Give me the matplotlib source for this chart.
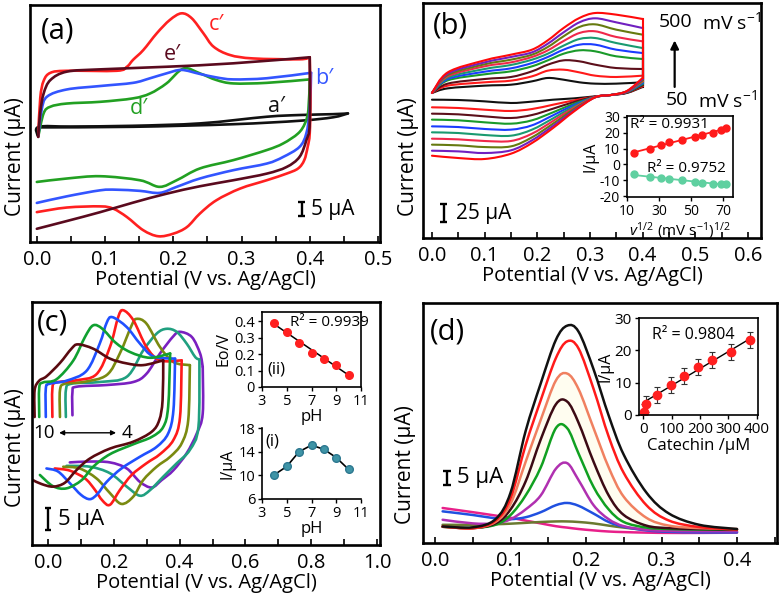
import numpy as np
import matplotlib
matplotlib.use("Agg")
import matplotlib.pyplot as plt
from matplotlib.path import Path
from matplotlib.patches import PathPatch
from matplotlib.ticker import MultipleLocator, NullLocator, FormatStrFormatter, FixedLocator, FuncFormatter

plt.rcParams['font.family'] = ['Open Sans', 'DejaVu Sans']
plt.rcParams['mathtext.fontset'] = 'custom'
plt.rcParams['mathtext.rm'] = 'Open Sans'
plt.rcParams['mathtext.it'] = 'Open Sans:italic'
plt.rcParams['axes.unicode_minus'] = False

# ---------------- Panel (a): CVs (V, uA) ----------------
a_black_up_x = [0.001, 0.003, 0.05, 0.14, 0.24, 0.337, 0.385, 0.434, 0.456]
a_black_up_y = [-3.0, 0.0, 0.1, 0.35, 1.2, 3.5, 4.1, 4.4, 4.65]
a_black_lo_x = [0.456, 0.434, 0.385, 0.288, 0.141, 0.003]
a_black_lo_y = [4.65, 3.3, 2.1, 0.9, 0.0, -0.2]

a_green_up_x = [0.002, 0.010, 0.020, 0.044, 0.093, 0.141, 0.166, 0.190, 0.215, 0.239, 0.263, 0.288, 0.337, 0.400]
a_green_up_y = [-3.5, 4.7, 7.0, 8.1, 8.7, 9.9, 11.6, 15.1, 20.3, 18.6, 16.3, 15.1, 15.3, 16.5]
a_green_lo_x = [0.400, 0.398, 0.393, 0.383, 0.361, 0.337, 0.288, 0.239, 0.205, 0.180, 0.151, 0.093, 0.044, 0.0]
a_green_lo_y = [16.5, 5.8, 1.2, -2.3, -5.8, -8.1, -11.6, -14.5, -18.6, -20.9, -18.6, -17.2, -18.0, -19.2]

a_blue_up_x = [0.002, 0.007, 0.015, 0.044, 0.093, 0.141, 0.166, 0.190, 0.212, 0.239, 0.263, 0.288, 0.337, 0.402]
a_blue_up_y = [-3.5, 5.8, 10.5, 13.0, 14.2, 15.3, 16.9, 18.6, 19.8, 18.4, 17.2, 16.5, 16.9, 18.8]
a_blue_lo_x = [0.402, 0.400, 0.395, 0.385, 0.361, 0.337, 0.288, 0.239, 0.205, 0.180, 0.151, 0.117, 0.093, 0.044, 0.0]
a_blue_lo_y = [18.8, 5.8, -2.3, -7.0, -10.5, -12.8, -15.1, -18.0, -20.9, -23.0, -22.3, -21.9, -22.1, -24.2, -26.5]

a_red_up_x = [0.002, 0.005, 0.010, 0.020, 0.044, 0.117, 0.132, 0.141, 0.156, 0.176, 0.195, 0.212, 0.227, 0.244, 0.259, 0.283, 0.317, 0.385, 0.400]
a_red_up_y = [-3.5, 10.0, 16.0, 18.8, 19.5, 19.5, 20.9, 23.3, 26.7, 32.6, 37.2, 39.5, 37.8, 32.6, 27.9, 25.0, 23.8, 23.5, 24.2]
a_red_lo_x = [0.400, 0.401, 0.400, 0.397, 0.392, 0.383, 0.366, 0.337, 0.298, 0.263, 0.239, 0.220, 0.200, 0.178, 0.156, 0.132, 0.112, 0.093, 0.044, 0.0]
a_red_lo_y = [24.2, 10.0, -2.3, -7.0, -11.6, -14.5, -16.3, -18.6, -21.5, -25.6, -30.2, -34.9, -37.2, -38.1, -36.0, -31.4, -28.5, -27.7, -28.1, -29.7]

a_brown_up_x = [0.002, 0.005, 0.010, 0.020, 0.044, 0.093, 0.190, 0.288, 0.400]
a_brown_up_y = [-3.5, 5.0, 11.6, 16.3, 19.2, 20.0, 20.9, 22.1, 24.2]
a_brown_lo_x = [0.400, 0.400, 0.395, 0.385, 0.366, 0.337, 0.288, 0.239, 0.190, 0.141, 0.093, 0.044, 0.0]
a_brown_lo_y = [24.2, 1.2, -4.7, -10.5, -14.0, -16.3, -18.6, -20.7, -23.3, -26.4, -29.7, -32.8, -35.5]

# ---------------- Panel (b): scan-rate CVs ----------------
b_up_x = [0.0, 0.03, 0.10, 0.15, 0.19, 0.22, 0.25, 0.28, 0.31, 0.35, 0.40]
b_up_y = [
    [4.5, 10.7, 14.3, 15.6, 20.1, 24.6, 22.3, 18.8, 17.0, 17.0, 18.8],
    [4.5, 14.3, 18.8, 21.0, 26.8, 34.4, 35.7, 32.1, 27.7, 25.9, 27.7],
    [4.5, 17.0, 23.2, 25.9, 33.5, 42.4, 48.2, 46.9, 42.4, 37.9, 36.6],
    [4.5, 21.4, 29.5, 33.5, 40.2, 48.2, 57.1, 61.6, 60.3, 53.6, 50.0],
    [4.5, 23.2, 33.0, 37.5, 44.6, 52.7, 62.5, 69.2, 69.2, 62.5, 58.0],
    [4.5, 25.0, 36.6, 42.0, 49.1, 57.1, 67.9, 76.8, 78.1, 71.4, 64.7],
    [4.5, 26.8, 40.2, 45.5, 52.7, 61.6, 74.1, 84.8, 87.1, 79.5, 73.7],
    [4.5, 28.6, 42.9, 49.1, 55.8, 66.1, 80.4, 92.9, 96.4, 89.3, 82.6],
    [4.5, 30.4, 45.5, 52.7, 58.9, 70.5, 85.7, 99.1, 104.5, 99.1, 91.5],
    [4.5, 32.1, 48.2, 55.8, 62.5, 75.0, 91.5, 104.9, 111.6, 109.4, 103.6],
]
b_lo_x = [0.40, 0.37, 0.34, 0.31, 0.27, 0.23, 0.19, 0.15, 0.10, 0.05, 0.0]
b_lo_y = [
    [12.5, 4.5, 1.8, 0.0, -2.7, -4.5, -7.1, -8.9, -6.7, -4.9, -4.5],
    [13.4, 4.9, 1.8, -0.4, -5.4, -11.2, -17.0, -19.6, -17.9, -15.6, -14.7],
    [14.7, 4.9, 1.8, -0.4, -7.6, -16.5, -25.0, -29.0, -26.8, -24.1, -23.2],
    [16.1, 5.4, 1.8, -0.9, -9.8, -21.4, -32.1, -36.6, -34.8, -32.1, -31.2],
    [17.4, 5.8, 1.8, -0.9, -11.6, -25.4, -38.8, -44.6, -43.7, -41.1, -40.2],
    [18.8, 6.2, 1.8, -0.9, -13.4, -29.5, -44.6, -52.7, -51.8, -49.1, -48.2],
    [20.1, 6.2, 1.8, -0.9, -15.2, -33.0, -50.0, -59.8, -59.8, -57.6, -56.7],
    [21.4, 6.7, 1.8, -1.3, -17.0, -36.6, -54.9, -67.0, -67.9, -65.6, -64.7],
    [23.2, 6.7, 1.8, -1.3, -18.8, -39.7, -58.9, -72.3, -75.9, -73.7, -72.8],
    [24.6, 7.1, 1.8, -1.3, -20.1, -42.4, -62.5, -76.8, -83.9, -82.6, -79.5],
]
b_colors = ['#111111', '#ff1a1a', '#5c0f1a', '#1a9a2a', '#1a3cff',
            '#1a9a70', '#f0284a', '#667a10', '#7020c0', '#ff0a0a']

# inset (b)
bi_x = [14.4, 24.2, 30.9, 36.3, 44.0, 52.3, 56.5, 63.4, 68.4, 71.5]
bi_anodic = [7.1, 10.0, 12.3, 14.0, 15.6, 17.5, 18.8, 20.0, 21.5, 22.7]
bi_cathodic = [-6.3, -7.6, -8.6, -9.3, -10.1, -11.0, -11.4, -12.0, -12.3, -12.6]

# ---------------- Panel (c): pH CVs ----------------
c10_up_x = [-0.041, -0.041, -0.027, -0.005, 0.036, 0.071, 0.091, 0.137, 0.188, 0.239, 0.289, 0.350]
c10_up_y = [3.8, 10.0, 12.2, 13.2, 16.3, 19.6, 20.6, 19.6, 17.3, 16.2, 15.8, 16.9]
c10_lo_x = [0.350, 0.348, 0.338, 0.315, 0.259, 0.188, 0.127, 0.086, 0.051, 0.015, -0.020, -0.046]
c10_lo_y = [16.9, 7.7, 3.1, 0.4, -1.9, -3.5, -5.8, -8.5, -11.4, -12.3, -11.7, -10.8]

c9_up_x = [-0.027, -0.027, -0.015, 0.025, 0.076, 0.112, 0.137, 0.165, 0.205, 0.250, 0.310, 0.371]
c9_up_y = [3.8, 10.6, 11.8, 12.5, 16.8, 22.3, 25.0, 24.2, 21.0, 18.8, 17.5, 18.5]
c9_lo_x = [0.371, 0.365, 0.350, 0.315, 0.259, 0.188, 0.137, 0.102, 0.056, 0.015, -0.025]
c9_lo_y = [18.5, 6.2, 1.5, -0.8, -2.5, -4.8, -7.7, -10.8, -12.7, -12.2, -9.6]

c8_up_x = [-0.007, -0.007, 0.005, 0.056, 0.117, 0.157, 0.178, 0.195, 0.239, 0.279, 0.320, 0.386]
c8_up_y = [3.8, 10.4, 11.5, 12.2, 14.5, 20.8, 25.6, 26.9, 24.6, 20.8, 17.8, 17.3]
c8_lo_x = [0.386, 0.381, 0.365, 0.330, 0.279, 0.223, 0.178, 0.150, 0.127, 0.100, 0.066, 0.030, -0.005]
c8_lo_y = [17.3, 5.4, 0.0, -3.1, -5.4, -8.1, -11.2, -14.0, -15.2, -14.2, -11.5, -8.8, -8.1]

c7_up_x = [0.013, 0.013, 0.025, 0.086, 0.147, 0.188, 0.213, 0.228, 0.259, 0.299, 0.340, 0.406]
c7_up_y = [3.8, 10.4, 11.8, 12.3, 13.7, 20.0, 26.9, 28.5, 26.2, 20.0, 16.9, 16.9]
c7_lo_x = [0.406, 0.401, 0.381, 0.340, 0.299, 0.254, 0.218, 0.188, 0.165, 0.140, 0.112, 0.066, 0.020]
c7_lo_y = [16.9, 3.8, -1.5, -4.8, -6.9, -9.6, -13.1, -16.5, -15.5, -12.8, -10.4, -8.6, -8.1]

c6_up_x = [0.036, 0.036, 0.051, 0.107, 0.178, 0.218, 0.254, 0.269, 0.299, 0.340, 0.381, 0.431]
c6_up_y = [3.8, 10.0, 11.5, 11.9, 13.5, 18.5, 25.0, 26.5, 25.4, 20.0, 16.5, 15.8]
c6_lo_x = [0.431, 0.426, 0.406, 0.371, 0.330, 0.289, 0.259, 0.223, 0.188, 0.147, 0.096, 0.046]
c6_lo_y = [15.8, 3.1, -2.3, -5.4, -7.7, -10.8, -14.6, -16.3, -13.8, -10.4, -8.1, -7.7]

c5_up_x = [0.054, 0.054, 0.071, 0.157, 0.239, 0.289, 0.330, 0.360, 0.391, 0.421, 0.447, 0.460]
c5_up_y = [3.8, 10.0, 11.5, 11.9, 13.1, 19.2, 23.1, 24.2, 23.5, 20.8, 17.7, 17.1]
c5_lo_x = [0.460, 0.457, 0.431, 0.391, 0.350, 0.310, 0.279, 0.239, 0.188, 0.127, 0.056]
c5_lo_y = [17.1, 1.5, -3.8, -6.9, -10.0, -13.1, -14.4, -12.3, -9.2, -7.7, -7.5]

c4_up_x = [0.074, 0.074, 0.086, 0.178, 0.259, 0.299, 0.340, 0.381, 0.401, 0.437, 0.462, 0.470]
c4_up_y = [4.2, 9.6, 10.8, 11.2, 11.9, 13.8, 18.5, 22.5, 23.5, 22.3, 18.5, 15.4]
c4_lo_x = [0.470, 0.470, 0.452, 0.421, 0.381, 0.345, 0.315, 0.279, 0.239, 0.188, 0.127, 0.066]
c4_lo_y = [15.4, 4.6, 0.0, -4.6, -8.5, -10.8, -12.5, -11.2, -8.1, -6.7, -6.5, -6.7]

# inset (c) (ii) and (i)
c_ph = [4, 5, 6, 7, 8, 9, 10]
c_e0 = [0.389, 0.335, 0.269, 0.209, 0.171, 0.135, 0.075]
c_ipeak = [10.1, 11.5, 14.0, 15.1, 14.4, 13.0, 11.0]

# ---------------- Panel (d): DPVs ----------------
d_x = [0.01, 0.05, 0.08, 0.10, 0.12, 0.14, 0.16, 0.175, 0.19, 0.21, 0.23, 0.25, 0.28, 0.31, 0.35, 0.40]
d_pink = [7.5, 6.0, 4.8, 4.0, 3.0, 2.0, 1.0, 0.5, 0.0, -0.5, -0.9, -1.1, -1.3, -1.4, -1.4, -1.3]
d_olive = [1.5, 1.5, 1.7, 1.9, 2.2, 2.5, 2.7, 2.7, 2.5, 2.0, 1.2, 0.5, -0.3, -0.8, -1.0, -1.0]
d_blue = [6.3, 5.0, 3.8, 3.5, 4.2, 6.0, 8.5, 9.3, 8.3, 5.5, 2.5, 0.8, -0.5, -1.0, -1.2, -1.2]
d_magenta = [3.3, 2.0, 2.0, 3.5, 7.0, 12.0, 21.5, 23.5, 17.5, 8.5, 3.5, 1.0, -0.3, -0.7, -0.8, -0.8]
d_green = [0.8, 0.4, 1.5, 5.0, 12.0, 22.0, 36.0, 36.0, 27.0, 15.0, 7.0, 2.5, 0.5, 0.0, -0.2, -0.3]
d_brown = [0.8, 0.3, 2.0, 7.0, 17.0, 32.0, 44.5, 45.5, 38.0, 24.0, 12.0, 5.0, 1.2, 0.3, 0.0, -0.2]
d_orange = [0.8, 0.3, 2.5, 9.0, 24.0, 39.0, 53.0, 55.5, 50.0, 36.0, 22.0, 11.5, 4.0, 1.2, 0.3, 0.0]
d_red = [0.9, 0.3, 3.0, 11.0, 30.0, 46.0, 61.0, 67.0, 64.5, 50.0, 33.0, 20.0, 8.5, 3.0, 0.7, -0.2]
d_black = [0.9, 0.6, 3.5, 13.0, 35.0, 52.0, 67.5, 72.6, 70.5, 57.0, 40.5, 26.5, 13.0, 5.5, 1.5, 0.0]

# inset (d)
di_conc = [3.5, 9.5, 47, 96, 144, 194, 241, 309, 376]
di_current = [1.0, 3.3, 6.3, 9.2, 12.1, 14.8, 17.0, 19.5, 23.1]
di_err = [2.5, 2.5, 2.5, 2.5, 2.5, 2.5, 2.5, 2.5, 2.5]

# ======================================================
W, H = 779, 597
fig = plt.figure(figsize=(W / 100, H / 100), dpi=100)


def rect(l, t, r, b):
    return [l / W, 1 - b / H, (r - l) / W, (b - t) / H]


def smooth(ax, x, y, color, lw=1.8, z=2):
    x = np.asarray(x, float)
    y = np.asarray(y, float)
    n = len(x)
    verts = [(x[0], y[0])]
    codes = [Path.MOVETO]
    for i in range(n - 1):
        i0 = max(i - 1, 0)
        i3 = min(i + 2, n - 1)
        c1 = (x[i] + (x[i + 1] - x[i0]) / 6, y[i] + (y[i + 1] - y[i0]) / 6)
        c2 = (x[i + 1] - (x[i3] - x[i]) / 6, y[i + 1] - (y[i3] - y[i]) / 6)
        verts += [c1, c2, (x[i + 1], y[i + 1])]
        codes += [Path.CURVE4] * 3
    ax.add_patch(PathPatch(Path(verts, codes), fill=False, edgecolor=color,
                           lw=lw, capstyle='round', joinstyle='round', zorder=z))


def style_main(ax, xlim, ylim, major, minor, ylab_xy):
    ax.set_xlim(*xlim)
    ax.set_ylim(*ylim)
    for s in ax.spines.values():
        s.set_linewidth(1.9)
    ax.yaxis.set_major_locator(NullLocator())
    ax.xaxis.set_major_locator(MultipleLocator(major))
    ax.xaxis.set_minor_locator(MultipleLocator(minor))
    ax.xaxis.set_major_formatter(FormatStrFormatter('%.1f'))
    ax.tick_params(axis='x', which='both', direction='in', length=4, width=1.2,
                   labelsize=14.5, pad=6)
    ax.set_xlabel('Potential (V vs. Ag/AgCl)', fontsize=14.5, labelpad=0)
    ax.set_ylabel('Current (μA)', fontsize=15)
    ax.yaxis.set_label_coords(*ylab_xy)


def scalebar(ax, x, y0, y1, cap, label, tx, fs=15):
    ax.plot([x, x], [y0, y1], color='black', lw=1.7, solid_capstyle='butt')
    ax.plot([x - cap, x + cap], [y0, y0], color='black', lw=1.7, solid_capstyle='butt')
    ax.plot([x - cap, x + cap], [y1, y1], color='black', lw=1.7, solid_capstyle='butt')
    ax.text(tx, (y0 + y1) / 2, label, fontsize=fs, va='center', ha='left')


def style_inset(ax, fs):
    for s in ax.spines.values():
        s.set_linewidth(1.2)
    ax.tick_params(axis='both', which='both', direction='out', length=3, width=1,
                   labelsize=fs, pad=2)


# ---------------- (a) ----------------
ax = fig.add_axes(rect(30, 5, 380, 242))
style_main(ax, (-0.01, 0.503), (-40.1, 42.4), 0.1, 0.05, (-0.012, 0.36))
for ux, uy, lx, ly, c in [
    (a_black_up_x, a_black_up_y, a_black_lo_x, a_black_lo_y, '#111111'),
    (a_green_up_x, a_green_up_y, a_green_lo_x, a_green_lo_y, '#22a022'),
    (a_blue_up_x, a_blue_up_y, a_blue_lo_x, a_blue_lo_y, '#3355ff'),
    (a_red_up_x, a_red_up_y, a_red_lo_x, a_red_lo_y, '#ff2020'),
    (a_brown_up_x, a_brown_up_y, a_brown_lo_x, a_brown_lo_y, '#5a0a1e'),
]:
    smooth(ax, ux, uy, c, lw=1.9)
    smooth(ax, lx, ly, c, lw=1.9)
ax.text(0.03, 0.89, '(a)', transform=ax.transAxes, fontsize=21, va='center', ha='left')
for t, x, y, c in [('c′', 0.263, 35.5, '#ff2020'), ('e′', 0.198, 25.0, '#5a0a1e'),
                   ('b′', 0.422, 16.9, '#3355ff'), ('d′', 0.149, 6.4, '#22a022'),
                   ('a′', 0.351, 7.0, '#111111')]:
    ax.text(x, y, t, color=c, fontsize=15.5, ha='center', va='center',
            family=['Open Sans', 'DejaVu Sans'])
scalebar(ax, 0.388, -26.2, -31.2, 0.005, '5 μA', 0.402)

# ---------------- (b) ----------------
ax = fig.add_axes(rect(423, 3, 761, 238))
style_main(ax, (-0.017, 0.625), (-189.7, 125), 0.1, 0.05, (-0.012, 0.345))
for i in range(10):
    c = b_colors[i]
    smooth(ax, b_up_x, b_up_y[i], c, lw=1.5)
    ax.plot([b_up_x[-1], b_lo_x[0]], [b_up_y[i][-1], b_lo_y[i][0]], color=c, lw=1.5)
    smooth(ax, b_lo_x, b_lo_y[i], c, lw=1.5)
ax.text(0.03, 0.9, '(b)', transform=ax.transAxes, fontsize=21, va='center', ha='left')
ax.annotate('', xy=(0.461, 78.6), xytext=(0.461, 8.9),
            arrowprops=dict(arrowstyle='-|>', color='black', lw=1.6, mutation_scale=12))
ax.text(0.463, 100, '500', fontsize=14, ha='center', va='center')
ax.text(0.513, 100, 'mV s$^{-1}$', fontsize=14, ha='left', va='center')
ax.text(0.466, -4.5, '50', fontsize=14, ha='center', va='center')
ax.text(0.505, -4.5, 'mV s$^{-1}$', fontsize=14, ha='left', va='center')
scalebar(ax, 0.022, -143.8, -168.8, 0.006, '25 μA', 0.045)

axi = fig.add_axes(rect(627, 116, 733, 197))
style_inset(axi, 10)
axi.set_xlim(10, 76)
axi.set_ylim(-20.5, 30.5)
axi.xaxis.set_major_locator(FixedLocator([10, 30, 50, 70]))
axi.yaxis.set_major_locator(MultipleLocator(10))
for yv, c in [(bi_anodic, '#ff1a1a'), (bi_cathodic, '#5fd0a0')]:
    p = np.polyfit(bi_x, yv, 1)
    xs = np.array([bi_x[0], bi_x[-1]])
    axi.plot(xs, np.polyval(p, xs), color=c, lw=1.3)
    axi.plot(bi_x, yv, 'o', color=c, ms=5)
axi.text(12, 25, 'R² = 0.9931', fontsize=11, va='center', ha='left')
axi.text(22.5, -2.3, 'R² = 0.9752', fontsize=11, va='center', ha='left')
axi.set_ylabel('I/μA', fontsize=11.5, labelpad=1)
axi.set_xlabel(r'$\it{v}^{1/2}$ (mV s$^{-1}$)$^{1/2}$', fontsize=11, labelpad=1)

# ---------------- (c) ----------------
ax = fig.add_axes(rect(32, 302, 380, 545))
style_main(ax, (-0.049, 1.009), (-25.8, 30.4), 0.2, 0.1, (-0.018, 0.40))
for ux, uy, lx, ly, c in [
    (c4_up_x, c4_up_y, c4_lo_x, c4_lo_y, '#7a20c0'),
    (c5_up_x, c5_up_y, c5_lo_x, c5_lo_y, '#20a080'),
    (c6_up_x, c6_up_y, c6_lo_x, c6_lo_y, '#7a8a10'),
    (c7_up_x, c7_up_y, c7_lo_x, c7_lo_y, '#ff1a1a'),
    (c8_up_x, c8_up_y, c8_lo_x, c8_lo_y, '#2050ff'),
    (c9_up_x, c9_up_y, c9_lo_x, c9_lo_y, '#10a030'),
    (c10_up_x, c10_up_y, c10_lo_x, c10_lo_y, '#5a0a10'),
]:
    smooth(ax, ux, uy, c, lw=1.9)
    smooth(ax, lx, ly, c, lw=1.9)
ax.text(0.015, 0.915, '(c)', transform=ax.transAxes, fontsize=21, va='center', ha='left')
ax.annotate('', xy=(0.215, 0.15), xytext=(0.025, 0.15),
            arrowprops=dict(arrowstyle='<|-|>', color='black', lw=1.0, mutation_scale=7))
ax.text(-0.013, 0.15, '10', fontsize=13.5, ha='center', va='center')
ax.text(0.24, 0.15, '4', fontsize=13.5, ha='center', va='center')
scalebar(ax, 0.0, -17.3, -22.3, 0.008, '5 μA', 0.03, fs=16)

axi = fig.add_axes(rect(262, 312, 361, 387))
style_inset(axi, 10.5)
axi.set_xlim(3, 11)
axi.set_ylim(0, 0.455)
axi.xaxis.set_major_locator(FixedLocator([3, 5, 7, 9, 11]))
axi.yaxis.set_major_locator(FixedLocator([0, 0.1, 0.2, 0.3, 0.4]))
axi.yaxis.set_major_formatter(FuncFormatter(lambda v, p: '0' if abs(v) < 1e-9 else f'{v:.1f}'))
p = np.polyfit(c_ph, c_e0, 1)
xs = np.array([c_ph[0], c_ph[-1]])
axi.plot(xs, np.polyval(p, xs), color='black', lw=1.1)
axi.plot(c_ph, c_e0, 'o', color='#ff2020', ms=5.5)
axi.text(5.3, 0.39, 'R² = 0.9939', fontsize=11, va='center', ha='left')
axi.text(3.4, 0.105, '(ii)', fontsize=12, va='center', ha='left')
axi.set_ylabel('Eo/V', fontsize=11.5, labelpad=2)
axi.set_xlabel('pH', fontsize=12, labelpad=0)

axi = fig.add_axes(rect(262, 428, 361, 499))
style_inset(axi, 10.5)
axi.spines['top'].set_visible(False)
axi.spines['right'].set_visible(False)
axi.set_xlim(3, 11)
axi.set_ylim(6, 18)
axi.xaxis.set_major_locator(FixedLocator([3, 5, 7, 9, 11]))
axi.yaxis.set_major_locator(FixedLocator([6, 10, 14, 18]))
axi.plot(c_ph, c_ipeak, '-', color='black', lw=1.2)
axi.plot(c_ph, c_ipeak, 'o', color='#3f94a6', mec='#2d7890', ms=5.5)
axi.text(3.3, 15.8, '(i)', fontsize=12, va='center', ha='left')
axi.set_ylabel('I/μA', fontsize=11.5, labelpad=2)
axi.set_xlabel('pH', fontsize=12, labelpad=0)

# ---------------- (d) ----------------
ax = fig.add_axes(rect(423, 303, 777, 543))
style_main(ax, (-0.016, 0.453), (-5.0, 80.7), 0.1, 0.05, (-0.02, 0.325))
ax.fill_between(d_x, d_green, d_orange, color='#fffdf0', lw=0, zorder=1)
for yv, c in [(d_pink, '#e8208a'), (d_olive, '#6a7a30'), (d_blue, '#2050e0'),
              (d_magenta, '#b030b0'), (d_green, '#10a020'), (d_brown, '#3c0a14'),
              (d_orange, '#f08060'), (d_red, '#ff1a1a'), (d_black, '#111111')]:
    smooth(ax, d_x, yv, c, lw=1.8)
ax.text(0.02, 0.88, '(d)', transform=ax.transAxes, fontsize=21, va='center', ha='left')
scalebar(ax, 0.016, 20.8, 15.8, 0.005, '5 μA', 0.029, fs=16)

axi = fig.add_axes(rect(639, 318, 758, 415))
style_inset(axi, 11)
axi.set_xlim(-15, 404)
axi.set_ylim(0, 30)
axi.xaxis.set_major_locator(MultipleLocator(100))
axi.yaxis.set_major_locator(MultipleLocator(10))
p = np.polyfit(di_conc[1:], di_current[1:], 1)
xs = np.array([0, 376])
axi.plot(xs, np.polyval(p, xs), color='black', lw=1.0)
axi.errorbar(di_conc, di_current, yerr=di_err, fmt='o', color='#ff2020', ms=6,
             ecolor='#333333', elinewidth=0.8, capsize=2, capthick=0.8)
axi.text(0.11, 0.825, 'R² = 0.9804', transform=axi.transAxes, fontsize=11.5, va='center', ha='left')
axi.set_ylabel('I/μA', fontsize=11.5, labelpad=1)
axi.set_xlabel('Catechin /μM', fontsize=12, labelpad=1)

fig.savefig('out.png', dpi=100)
